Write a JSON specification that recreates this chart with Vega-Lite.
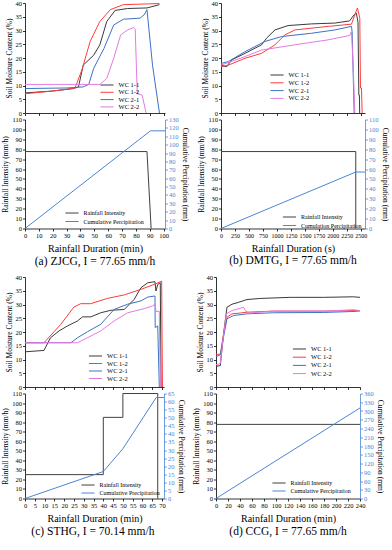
{
  "$schema": "https://vega.github.io/schema/vega-lite/v6.json",
  "padding": {"left": 1, "right": 2, "top": 0, "bottom": 2},
  "config": {
    "font": "Liberation Serif",
    "view": {"stroke": null},
    "axis": {"labelFont": "Liberation Serif", "titleFont": "Liberation Serif", "labelFontSize": 6.5, "titleFontSize": 7.5, "titleFontWeight": "normal", "grid": false, "domainColor": "#000", "tickColor": "#000", "labelColor": "#000", "titleColor": "#000", "tickSize": 2.5, "labelPadding": 1, "titlePadding": 2, "domainWidth": 0.8, "tickWidth": 0.8, "labelOverlap": false, "labelFlush": false},
    "legend": {"labelFont": "Liberation Serif", "labelFontSize": 6.5, "labelColor": "#000", "symbolType": "M-2.4,0L2.4,0", "symbolSize": 30, "symbolStrokeWidth": 1, "labelOffset": 8, "rowPadding": 0.5, "padding": 0, "title": null},
    "title": {"font": "Liberation Serif", "fontSize": 11.5, "fontWeight": "normal", "color": "#000", "anchor": "middle"},
    "line": {"strokeWidth": 1}
  },
  "spacing": 7,
  "resolve": {"scale": {"color": "independent"}, "legend": {"color": "independent"}},
  "vconcat": [
    {
      "spacing": 8,
      "resolve": {"scale": {"color": "independent"}, "legend": {"color": "independent"}},
      "hconcat": [
        {
          "title": {"text": "(a) ZJCG, I = 77.65 mm/h", "orient": "bottom", "offset": 2, "anchor": "middle"},
          "spacing": 6.5,
          "bounds": "flush",
          "resolve": {"scale": {"color": "independent"}, "legend": {"color": "independent"}},
          "vconcat": [
            {
              "width": 140, "height": 110,
              "data": {"values": [
                {"s": "WC 1-1", "t": 0, "v": 7.3}, {"s": "WC 1-1", "t": 20, "v": 8.0}, {"s": "WC 1-1", "t": 35, "v": 8.9}, {"s": "WC 1-1", "t": 38.6, "v": 9.5}, {"s": "WC 1-1", "t": 42, "v": 17.4}, {"s": "WC 1-1", "t": 49.5, "v": 21}, {"s": "WC 1-1", "t": 54, "v": 24.8}, {"s": "WC 1-1", "t": 59, "v": 33.3}, {"s": "WC 1-1", "t": 65, "v": 37.3}, {"s": "WC 1-1", "t": 74, "v": 38}, {"s": "WC 1-1", "t": 88, "v": 38.2}, {"s": "WC 1-1", "t": 97, "v": 39.4},
                {"s": "WC 1-2", "t": 0, "v": 7}, {"s": "WC 1-2", "t": 20, "v": 8}, {"s": "WC 1-2", "t": 36, "v": 9}, {"s": "WC 1-2", "t": 41, "v": 15.6}, {"s": "WC 1-2", "t": 47, "v": 26}, {"s": "WC 1-2", "t": 54, "v": 33.3}, {"s": "WC 1-2", "t": 61.6, "v": 37.6}, {"s": "WC 1-2", "t": 71, "v": 39.4}, {"s": "WC 1-2", "t": 97, "v": 39.8},
                {"s": "WC 2-1", "t": 0, "v": 8.9}, {"s": "WC 2-1", "t": 30, "v": 9.1}, {"s": "WC 2-1", "t": 42, "v": 9.5}, {"s": "WC 2-1", "t": 46, "v": 10.4}, {"s": "WC 2-1", "t": 49.5, "v": 16.2}, {"s": "WC 2-1", "t": 57, "v": 23.5}, {"s": "WC 2-1", "t": 64, "v": 32}, {"s": "WC 2-1", "t": 71, "v": 34.1}, {"s": "WC 2-1", "t": 83, "v": 34.5}, {"s": "WC 2-1", "t": 86, "v": 35.7}, {"s": "WC 2-1", "t": 88, "v": 37.6}, {"s": "WC 2-1", "t": 92, "v": 17.4}, {"s": "WC 2-1", "t": 97, "v": 0},
                {"s": "WC 2-2", "t": 0, "v": 10.4}, {"s": "WC 2-2", "t": 54, "v": 10.4}, {"s": "WC 2-2", "t": 59, "v": 12.6}, {"s": "WC 2-2", "t": 64, "v": 19.9}, {"s": "WC 2-2", "t": 69, "v": 28.4}, {"s": "WC 2-2", "t": 74, "v": 30.2}, {"s": "WC 2-2", "t": 78.5, "v": 31.1}, {"s": "WC 2-2", "t": 79.5, "v": 30.5}, {"s": "WC 2-2", "t": 81, "v": 7}, {"s": "WC 2-2", "t": 84.5, "v": 6.5}, {"s": "WC 2-2", "t": 87.4, "v": 0}
              ]},
              "layer": [
                {
                  "mark": {"type": "line", "strokeWidth": 1},
                  "encoding": {
                    "x": {"field": "t", "type": "quantitative", "scale": {"domain": [0, 101], "nice": false}, "axis": {"labels": false, "title": null, "values": [0,10,20,30,40,50,60,70,80,90,100]}},
                    "y": {"field": "v", "type": "quantitative", "scale": {"domain": [0, 40], "nice": false}, "axis": {"title": "Soil Moisture Content (%)", "values": [0,5,10,15,20,25,30,35,40]}},
                    "color": {"field": "s", "type": "nominal", "scale": {"domain": ["WC 1-1","WC 1-2","WC 2-1","WC 2-2"], "range": ["#3a3a3a","#ff3c3c","#3d72c4","#e27be0"]}, "legend": {"orient": "none", "legendX": 78.5, "legendY": 78.5, "rowPadding": 0.3}}
                  }
                }
              ]
            },
            {
              "width": 140, "height": 109,
              "resolve": {"scale": {"y": "independent"}},
              "encoding": {
                "x": {"field": "t", "type": "quantitative", "scale": {"domain": [0, 101], "nice": false}, "axis": {"title": "Rainfall Duration (min)", "titleFontSize": 10, "titlePadding": 5, "labelOverlap": false, "values": [0,10,20,30,40,50,60,70,80,90,100]}}
              },
              "layer": [
                {
                  "data": {"values": [{"s": "Rainfall Intensity", "t": 0, "v": 77.65}, {"s": "Rainfall Intensity", "t": 88, "v": 77.65}, {"s": "Rainfall Intensity", "t": 91, "v": 0}]},
                  "mark": {"type": "line", "strokeWidth": 1},
                  "encoding": {
                    "y": {"field": "v", "type": "quantitative", "scale": {"domain": [0, 110], "nice": false}, "axis": {"title": "Rainfall Intensity (mm/h)", "values": [0,10,20,30,40,50,60,70,80,90,100,110]}},
                    "color": {"field": "s", "type": "nominal", "scale": {"domain": ["Rainfall Intensity", "Cumulative Percipitation"], "range": ["#404040", "#4a86d4"]}, "legend": {"orient": "none", "legendX": 43.5, "legendY": 90, "rowPadding": 1.5, "labelFontSize": 6}},
                    "order": {"value": null}
                  }
                },
                {
                  "data": {"values": [{"s": "Cumulative Percipitation", "t": 0, "v": 0}, {"s": "Cumulative Percipitation", "t": 90.5, "v": 116.5}, {"s": "Cumulative Percipitation", "t": 101, "v": 116.5}]},
                  "mark": {"type": "line", "strokeWidth": 1},
                  "encoding": {
                    "y": {"field": "v", "type": "quantitative", "scale": {"domain": [0, 130], "nice": false}, "axis": {"orient": "right", "title": "Cumulative Percipitation (mm)", "values": [0,10,20,30,40,50,60,70,80,90,100,110,120,130], "domainColor": "#4a86d4", "tickColor": "#4a86d4", "labelColor": "#4a86d4", "titleColor": "#000"}},
                    "color": {"field": "s", "type": "nominal", "scale": {"domain": ["Rainfall Intensity", "Cumulative Percipitation"], "range": ["#404040", "#4a86d4"]}}
                  }
                }
              ]
            }
          ]
        },
        {
          "title": {"text": "(b) DMTG, I = 77.65 mm/h", "orient": "bottom", "offset": 2, "anchor": "middle"},
          "spacing": 6.5,
          "bounds": "flush",
          "resolve": {"scale": {"color": "independent"}, "legend": {"color": "independent"}},
          "vconcat": [
            {
              "width": 144, "height": 110,
              "data": {"values": [
                {"s": "WC 1-1", "t": 0, "v": 17.4}, {"s": "WC 1-1", "t": 100, "v": 16.8}, {"s": "WC 1-1", "t": 190, "v": 19.3}, {"s": "WC 1-1", "t": 430, "v": 21.7}, {"s": "WC 1-1", "t": 726, "v": 24.8}, {"s": "WC 1-1", "t": 815, "v": 27.2}, {"s": "WC 1-1", "t": 964, "v": 30.2}, {"s": "WC 1-1", "t": 1200, "v": 31.8}, {"s": "WC 1-1", "t": 1620, "v": 32.4}, {"s": "WC 1-1", "t": 2035, "v": 32.7}, {"s": "WC 1-1", "t": 2300, "v": 33.5}, {"s": "WC 1-1", "t": 2380, "v": 35.7}, {"s": "WC 1-1", "t": 2420, "v": 36.3}, {"s": "WC 1-1", "t": 2450, "v": 33}, {"s": "WC 1-1", "t": 2465, "v": 6.5}, {"s": "WC 1-1", "t": 2475, "v": 6.5}, {"s": "WC 1-1", "t": 2480, "v": 0},
                {"s": "WC 1-2", "t": 0, "v": 16.8}, {"s": "WC 1-2", "t": 130, "v": 17.4}, {"s": "WC 1-2", "t": 430, "v": 19.9}, {"s": "WC 1-2", "t": 726, "v": 21.7}, {"s": "WC 1-2", "t": 964, "v": 24.8}, {"s": "WC 1-2", "t": 1143, "v": 28.4}, {"s": "WC 1-2", "t": 1321, "v": 30.2}, {"s": "WC 1-2", "t": 1917, "v": 31.5}, {"s": "WC 1-2", "t": 2333, "v": 32.3}, {"s": "WC 1-2", "t": 2393, "v": 35.7}, {"s": "WC 1-2", "t": 2440, "v": 38.2}, {"s": "WC 1-2", "t": 2482, "v": 34.5}, {"s": "WC 1-2", "t": 2494, "v": 9.1}, {"s": "WC 1-2", "t": 2512, "v": 9.1}, {"s": "WC 1-2", "t": 2524, "v": 0},
                {"s": "WC 2-1", "t": 0, "v": 18}, {"s": "WC 2-1", "t": 131, "v": 18.7}, {"s": "WC 2-1", "t": 428, "v": 22.3}, {"s": "WC 2-1", "t": 785, "v": 26}, {"s": "WC 2-1", "t": 1083, "v": 27.8}, {"s": "WC 2-1", "t": 1619, "v": 29}, {"s": "WC 2-1", "t": 2036, "v": 30.2}, {"s": "WC 2-1", "t": 2333, "v": 31.5}, {"s": "WC 2-1", "t": 2345, "v": 29.6}, {"s": "WC 2-1", "t": 2381, "v": 0},
                {"s": "WC 2-2", "t": 0, "v": 17.4}, {"s": "WC 2-2", "t": 428, "v": 20.5}, {"s": "WC 2-2", "t": 726, "v": 22.9}, {"s": "WC 2-2", "t": 1321, "v": 24.8}, {"s": "WC 2-2", "t": 1917, "v": 26.6}, {"s": "WC 2-2", "t": 2304, "v": 28.2}, {"s": "WC 2-2", "t": 2333, "v": 29.6}, {"s": "WC 2-2", "t": 2363, "v": 17.4}, {"s": "WC 2-2", "t": 2393, "v": 0}
              ]},
              "layer": [
                {
                  "mark": {"type": "line", "strokeWidth": 1},
                  "encoding": {
                    "x": {"field": "t", "type": "quantitative", "scale": {"domain": [0, 2575], "nice": false}, "axis": {"labels": false, "title": null, "values": [0,250,500,750,1000,1250,1500,1750,2000,2250,2500]}},
                    "y": {"field": "v", "type": "quantitative", "scale": {"domain": [0, 40], "nice": false}, "axis": {"title": "Soil Moisture Content (%)", "values": [0,5,10,15,20,25,30,35,40]}},
                    "color": {"field": "s", "type": "nominal", "scale": {"domain": ["WC 1-1","WC 1-2","WC 2-1","WC 2-2"], "range": ["#3a3a3a","#ff3c3c","#3d72c4","#e27be0"]}, "legend": {"orient": "none", "legendX": 52.5, "legendY": 68.5, "rowPadding": 0.8}}
                  }
                }
              ]
            },
            {
              "width": 144, "height": 109,
              "resolve": {"scale": {"y": "independent"}},
              "encoding": {
                "x": {"field": "t", "type": "quantitative", "scale": {"domain": [0, 2575], "nice": false}, "axis": {"title": "Rainfall Duration (s)", "titleFontSize": 10, "titlePadding": 5, "labelOverlap": false, "labelFontSize": 6, "format": "d", "values": [0,250,500,750,1000,1250,1500,1750,2000,2250,2500]}}
              },
              "layer": [
                {
                  "data": {"values": [{"s": "Rainfall Intensity", "t": 0, "v": 77.65}, {"s": "Rainfall Intensity", "t": 2410, "v": 77.65}, {"s": "Rainfall Intensity", "t": 2410, "v": 0}]},
                  "mark": {"type": "line", "strokeWidth": 1},
                  "encoding": {
                    "y": {"field": "v", "type": "quantitative", "scale": {"domain": [0, 110], "nice": false}, "axis": {"title": "Rainfall Intensity (mm/h)", "values": [0,10,20,30,40,50,60,70,80,90,100,110]}},
                    "color": {"field": "s", "type": "nominal", "scale": {"domain": ["Rainfall Intensity", "Cumulation Percipitation"], "range": ["#404040", "#4a86d4"]}, "legend": {"orient": "none", "legendX": 65, "legendY": 94, "rowPadding": 1.5, "labelFontSize": 6}},
                    "order": {"value": null}
                  }
                },
                {
                  "data": {"values": [{"s": "Cumulation Percipitation", "t": 0, "v": 0}, {"s": "Cumulation Percipitation", "t": 2410, "v": 57}, {"s": "Cumulation Percipitation", "t": 2575, "v": 57}]},
                  "mark": {"type": "line", "strokeWidth": 1},
                  "encoding": {
                    "y": {"field": "v", "type": "quantitative", "scale": {"domain": [0, 110], "nice": false}, "axis": {"orient": "right", "title": "Cumulative Percipitation (mm)", "values": [0,10,20,30,40,50,60,70,80,90,100,110], "domainColor": "#4a86d4", "tickColor": "#4a86d4", "labelColor": "#4a86d4", "titleColor": "#000"}},
                    "color": {"field": "s", "type": "nominal", "scale": {"domain": ["Rainfall Intensity", "Cumulation Percipitation"], "range": ["#404040", "#4a86d4"]}}
                  }
                }
              ]
            }
          ]
        }
      ]
    },
    {
      "spacing": 8,
      "resolve": {"scale": {"color": "independent"}, "legend": {"color": "independent"}},
      "hconcat": [
        {
          "title": {"text": "(c) STHG, I = 70.14 mm/h", "orient": "bottom", "offset": 2, "anchor": "middle"},
          "spacing": 6.5,
          "bounds": "flush",
          "resolve": {"scale": {"color": "independent"}, "legend": {"color": "independent"}},
          "vconcat": [
            {
              "width": 139, "height": 110,
              "data": {"values": [
                {"s": "WC 1-1", "t": 0, "v": 12.8}, {"s": "WC 1-1", "t": 9.7, "v": 13.3}, {"s": "WC 1-1", "t": 13, "v": 17.9}, {"s": "WC 1-1", "t": 17.4, "v": 20.4}, {"s": "WC 1-1", "t": 21.7, "v": 22.2}, {"s": "WC 1-1", "t": 26.8, "v": 24}, {"s": "WC 1-1", "t": 29.4, "v": 25.5}, {"s": "WC 1-1", "t": 33.6, "v": 25.5}, {"s": "WC 1-1", "t": 38.7, "v": 27}, {"s": "WC 1-1", "t": 43.9, "v": 27.9}, {"s": "WC 1-1", "t": 50.7, "v": 28.2}, {"s": "WC 1-1", "t": 55.8, "v": 31.9}, {"s": "WC 1-1", "t": 59.2, "v": 36.1}, {"s": "WC 1-1", "t": 62.7, "v": 37.9}, {"s": "WC 1-1", "t": 66.4, "v": 38.3}, {"s": "WC 1-1", "t": 66.9, "v": 34.9}, {"s": "WC 1-1", "t": 67.8, "v": 37.3}, {"s": "WC 1-1", "t": 69.1, "v": 37.9}, {"s": "WC 1-1", "t": 69.5, "v": 0},
                {"s": "WC 1-2", "t": 0, "v": 16.1}, {"s": "WC 1-2", "t": 9.7, "v": 16.1}, {"s": "WC 1-2", "t": 18.3, "v": 22.8}, {"s": "WC 1-2", "t": 25, "v": 29.1}, {"s": "WC 1-2", "t": 28.5, "v": 30.3}, {"s": "WC 1-2", "t": 33.6, "v": 30.3}, {"s": "WC 1-2", "t": 42, "v": 32.2}, {"s": "WC 1-2", "t": 50.7, "v": 33.5}, {"s": "WC 1-2", "t": 59.2, "v": 35.5}, {"s": "WC 1-2", "t": 66, "v": 37.3}, {"s": "WC 1-2", "t": 69.8, "v": 38.5}, {"s": "WC 1-2", "t": 70.2, "v": 0},
                {"s": "WC 2-1", "t": 0, "v": 16.1}, {"s": "WC 2-1", "t": 23.4, "v": 16.1}, {"s": "WC 2-1", "t": 26.8, "v": 17.9}, {"s": "WC 2-1", "t": 31.9, "v": 20.1}, {"s": "WC 2-1", "t": 38.7, "v": 22.8}, {"s": "WC 2-1", "t": 45.5, "v": 28.2}, {"s": "WC 2-1", "t": 52.4, "v": 30.1}, {"s": "WC 2-1", "t": 59.2, "v": 31.3}, {"s": "WC 2-1", "t": 62.7, "v": 32.7}, {"s": "WC 2-1", "t": 66.4, "v": 33.1}, {"s": "WC 2-1", "t": 66.5, "v": 21.6}, {"s": "WC 2-1", "t": 67.8, "v": 22.2}, {"s": "WC 2-1", "t": 68.6, "v": 0},
                {"s": "WC 2-2", "t": 0, "v": 16.1}, {"s": "WC 2-2", "t": 26.8, "v": 16.1}, {"s": "WC 2-2", "t": 31.9, "v": 17.9}, {"s": "WC 2-2", "t": 38.7, "v": 20.4}, {"s": "WC 2-2", "t": 45.5, "v": 24}, {"s": "WC 2-2", "t": 52.4, "v": 27}, {"s": "WC 2-2", "t": 60.9, "v": 28.5}, {"s": "WC 2-2", "t": 65.2, "v": 29.5}, {"s": "WC 2-2", "t": 66.4, "v": 30.1}, {"s": "WC 2-2", "t": 66.9, "v": 27.4}, {"s": "WC 2-2", "t": 68.6, "v": 27.6}, {"s": "WC 2-2", "t": 69.1, "v": 0}
              ]},
              "layer": [
                {
                  "mark": {"type": "line", "strokeWidth": 1},
                  "encoding": {
                    "x": {"field": "t", "type": "quantitative", "scale": {"domain": [0, 71], "nice": false}, "axis": {"labels": false, "title": null, "values": [0,5,10,15,20,25,30,35,40,45,50,55,60,65,70]}},
                    "y": {"field": "v", "type": "quantitative", "scale": {"domain": [0, 40], "nice": false}, "axis": {"title": "Soil Moisture Content (%)", "values": [0,5,10,15,20,25,30,35,40]}},
                    "color": {"field": "s", "type": "nominal", "scale": {"domain": ["WC 1-1","WC 1-2","WC 2-1","WC 2-2"], "range": ["#3a3a3a","#ff3c3c","#3d72c4","#e27be0"]}, "legend": {"orient": "none", "legendX": 67, "legendY": 75.5, "rowPadding": 0.5}}
                  }
                }
              ]
            },
            {
              "width": 139, "height": 105,
              "resolve": {"scale": {"y": "independent"}},
              "encoding": {
                "x": {"field": "t", "type": "quantitative", "scale": {"domain": [0, 71], "nice": false}, "axis": {"title": "Rainfall Duration (min)", "titleFontSize": 10, "titlePadding": 5, "labelOverlap": false, "values": [0,5,10,15,20,25,30,35,40,45,50,55,60,65,70]}}
              },
              "layer": [
                {
                  "data": {"values": [{"s": "Rainfall Intensity", "t": 0, "v": 25}, {"s": "Rainfall Intensity", "t": 40, "v": 25}, {"s": "Rainfall Intensity", "t": 40, "v": 85}, {"s": "Rainfall Intensity", "t": 50, "v": 85}, {"s": "Rainfall Intensity", "t": 50, "v": 110}, {"s": "Rainfall Intensity", "t": 67.8, "v": 110}, {"s": "Rainfall Intensity", "t": 67.8, "v": 0}]},
                  "mark": {"type": "line", "strokeWidth": 1},
                  "encoding": {
                    "y": {"field": "v", "type": "quantitative", "scale": {"domain": [0, 110], "nice": false}, "axis": {"title": "Rainfall Intensity (mm/h)", "values": [0,10,20,30,40,50,60,70,80,90,100,110]}},
                    "color": {"field": "s", "type": "nominal", "scale": {"domain": ["Rainfall Intensity", "Cumulative Precipitation"], "range": ["#404040", "#4a86d4"]}, "legend": {"orient": "none", "legendX": 59.5, "legendY": 88, "rowPadding": 1, "labelFontSize": 6}},
                    "order": {"value": null}
                  }
                },
                {
                  "data": {"values": [{"s": "Cumulative Precipitation", "t": 0, "v": 0}, {"s": "Cumulative Precipitation", "t": 40, "v": 16.7}, {"s": "Cumulative Precipitation", "t": 50, "v": 30.8}, {"s": "Cumulative Precipitation", "t": 67, "v": 62.5}, {"s": "Cumulative Precipitation", "t": 71, "v": 62.5}]},
                  "mark": {"type": "line", "strokeWidth": 1},
                  "encoding": {
                    "y": {"field": "v", "type": "quantitative", "scale": {"domain": [0, 65], "nice": false}, "axis": {"orient": "right", "title": "Cumulative Percipitation (mm)", "values": [0,5,10,15,20,25,30,35,40,45,50,55,60,65], "domainColor": "#4a86d4", "tickColor": "#4a86d4", "labelColor": "#4a86d4", "titleColor": "#000"}},
                    "color": {"field": "s", "type": "nominal", "scale": {"domain": ["Rainfall Intensity", "Cumulative Precipitation"], "range": ["#404040", "#4a86d4"]}}
                  }
                }
              ]
            }
          ]
        },
        {
          "title": {"text": "(d) CCG, I = 77.65 mm/h", "orient": "bottom", "offset": 2, "anchor": "middle"},
          "spacing": 6.5,
          "bounds": "flush",
          "resolve": {"scale": {"color": "independent"}, "legend": {"color": "independent"}},
          "vconcat": [
            {
              "width": 144, "height": 110,
              "data": {"values": [
                {"s": "WC 1-1", "t": 0, "v": 7.5}, {"s": "WC 1-1", "t": 7.2, "v": 7.8}, {"s": "WC 1-1", "t": 12.7, "v": 19.5}, {"s": "WC 1-1", "t": 18.3, "v": 29}, {"s": "WC 1-1", "t": 26.6, "v": 30.1}, {"s": "WC 1-1", "t": 37.7, "v": 30.8}, {"s": "WC 1-1", "t": 51.6, "v": 31.8}, {"s": "WC 1-1", "t": 73.7, "v": 32.2}, {"s": "WC 1-1", "t": 123.6, "v": 32.6}, {"s": "WC 1-1", "t": 179, "v": 32.6}, {"s": "WC 1-1", "t": 229, "v": 32.8}, {"s": "WC 1-1", "t": 240, "v": 32.6},
                {"s": "WC 1-2", "t": 0, "v": 11.9}, {"s": "WC 1-2", "t": 7.2, "v": 11.9}, {"s": "WC 1-2", "t": 12.7, "v": 19.5}, {"s": "WC 1-2", "t": 18.3, "v": 25.4}, {"s": "WC 1-2", "t": 26.6, "v": 26.6}, {"s": "WC 1-2", "t": 40.5, "v": 26.9}, {"s": "WC 1-2", "t": 51.6, "v": 27.2}, {"s": "WC 1-2", "t": 95.9, "v": 27.6}, {"s": "WC 1-2", "t": 179, "v": 27.6}, {"s": "WC 1-2", "t": 234, "v": 27.8}, {"s": "WC 1-2", "t": 240, "v": 27.6},
                {"s": "WC 2-1", "t": 0, "v": 11.1}, {"s": "WC 2-1", "t": 7.2, "v": 11.7}, {"s": "WC 2-1", "t": 12.7, "v": 18.3}, {"s": "WC 2-1", "t": 18.3, "v": 24.8}, {"s": "WC 2-1", "t": 29.4, "v": 26}, {"s": "WC 2-1", "t": 51.6, "v": 26.6}, {"s": "WC 2-1", "t": 95.9, "v": 27}, {"s": "WC 2-1", "t": 179, "v": 27.1}, {"s": "WC 2-1", "t": 234, "v": 27.5}, {"s": "WC 2-1", "t": 240, "v": 27.8},
                {"s": "WC 2-2", "t": 0, "v": 8.1}, {"s": "WC 2-2", "t": 7.2, "v": 8.5}, {"s": "WC 2-2", "t": 11.6, "v": 17.1}, {"s": "WC 2-2", "t": 17.2, "v": 26.6}, {"s": "WC 2-2", "t": 26.6, "v": 27.8}, {"s": "WC 2-2", "t": 46, "v": 29}, {"s": "WC 2-2", "t": 48.8, "v": 27.8}, {"s": "WC 2-2", "t": 54.3, "v": 26.9}, {"s": "WC 2-2", "t": 95.9, "v": 27.6}, {"s": "WC 2-2", "t": 179, "v": 27.6}, {"s": "WC 2-2", "t": 229, "v": 28.1}, {"s": "WC 2-2", "t": 240, "v": 27.8}
              ]},
              "layer": [
                {
                  "mark": {"type": "line", "strokeWidth": 1},
                  "encoding": {
                    "x": {"field": "t", "type": "quantitative", "scale": {"domain": [0, 240], "nice": false}, "axis": {"labels": false, "title": null, "values": [0,20,40,60,80,100,120,140,160,180,200,220,240]}},
                    "y": {"field": "v", "type": "quantitative", "scale": {"domain": [0, 40], "nice": false}, "axis": {"title": "Soil Moisture Content (%)", "values": [0,5,10,15,20,25,30,35,40]}},
                    "color": {"field": "s", "type": "nominal", "scale": {"domain": ["WC 1-1","WC 1-2","WC 2-1","WC 2-2"], "range": ["#3a3a3a","#ff3c3c","#3d72c4","#e27be0"]}, "legend": {"orient": "none", "legendX": 80, "legendY": 68.5, "rowPadding": 1.2}}
                  }
                }
              ]
            },
            {
              "width": 144, "height": 105,
              "resolve": {"scale": {"y": "independent"}},
              "encoding": {
                "x": {"field": "t", "type": "quantitative", "scale": {"domain": [0, 240], "nice": false}, "axis": {"title": "Rainfall Duration (min)", "titleFontSize": 10, "titlePadding": 5, "labelOverlap": false, "values": [0,20,40,60,80,100,120,140,160,180,200,220,240]}}
              },
              "layer": [
                {
                  "data": {"values": [{"s": "Rainfall Intensity", "t": 0, "v": 77.65}, {"s": "Rainfall Intensity", "t": 240, "v": 77.65}]},
                  "mark": {"type": "line", "strokeWidth": 1},
                  "encoding": {
                    "y": {"field": "v", "type": "quantitative", "scale": {"domain": [0, 110], "nice": false}, "axis": {"title": "Rainfall Intensity (mm/h)", "values": [0,10,20,30,40,50,60,70,80,90,100,110]}},
                    "color": {"field": "s", "type": "nominal", "scale": {"domain": ["Rainfall Intensity", "Cumulative Percipitation"], "range": ["#404040", "#4a86d4"]}, "legend": {"orient": "none", "legendX": 59.5, "legendY": 86, "rowPadding": 1, "labelFontSize": 6}}
                  }
                },
                {
                  "data": {"values": [{"s": "Cumulative Percipitation", "t": 0, "v": 0}, {"s": "Cumulative Percipitation", "t": 240, "v": 310.6}]},
                  "mark": {"type": "line", "strokeWidth": 1},
                  "encoding": {
                    "y": {"field": "v", "type": "quantitative", "scale": {"domain": [0, 360], "nice": false}, "axis": {"orient": "right", "title": "Cumulative Percipitation (mm)", "values": [0,30,60,90,120,150,180,210,240,270,300,330,360], "domainColor": "#4a86d4", "tickColor": "#4a86d4", "labelColor": "#4a86d4", "titleColor": "#000"}},
                    "color": {"field": "s", "type": "nominal", "scale": {"domain": ["Rainfall Intensity", "Cumulative Percipitation"], "range": ["#404040", "#4a86d4"]}}
                  }
                }
              ]
            }
          ]
        }
      ]
    }
  ]
}
